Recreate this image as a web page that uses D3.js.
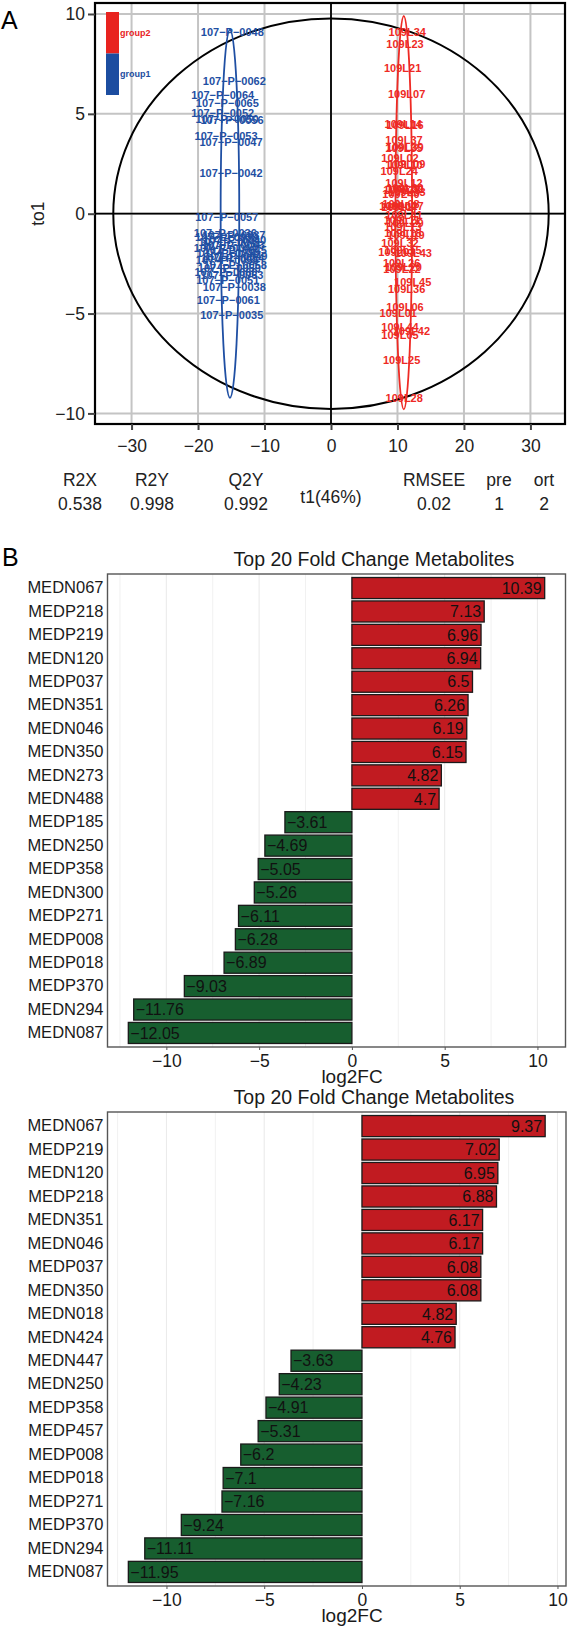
<!DOCTYPE html>
<html><head><meta charset="utf-8">
<script src="https://cdn.jsdelivr.net/npm/d3@7"></script>
<style>
body{margin:0;background:#fff}
svg{display:block}
text{font-family:"Liberation Sans",Arial,Helvetica,sans-serif}
</style>
</head><body>
<svg id="c" width="570" height="1631"></svg>
<script>
// ---------------- Panel A data (OPLS-DA scores) ----------------
const group1Names = ["107-P-0048","107-P-0062","107-P-0064","107-P-0065","107-P-0052","107-P-0056","107-P-0050","107-P-0053","107-P-0047","107-P-0042","107-P-0057",
  "107-P-0036","107-P-0037","107-P-0039","107-P-0040","107-P-0041","107-P-0043","107-P-0044","107-P-0045","107-P-0046","107-P-0049","107-P-0054","107-P-0055","107-P-0058","107-P-0059","107-P-0060","107-P-0063",
  "107-P-0051","107-P-0038","107-P-0061","107-P-0035"];
const group1T1 = [-14.84,-14.54,-16.29,-15.59,-16.29,-14.89,-15.64,-15.79,-15.04,-15.04,-15.68,
  -15.9,-14.6,-15.7,-14.5,-15.2,-14.7,-15.9,-14.4,-15.5,-14.3,-14.8,-15.6,-14.4,-15.3,-15.8,-14.9,
  -15.53,-14.54,-15.44,-14.93];
const group1To1 = [9.10,6.63,5.93,5.55,5.02,4.68,4.73,3.88,3.60,2.04,-0.16,
  -0.98,-1.08,-1.18,-1.33,-1.43,-1.58,-1.73,-1.83,-1.98,-2.13,-2.23,-2.33,-2.58,-2.73,-2.93,-3.08,
  -3.30,-3.67,-4.33,-5.08];

const group2Names = ["109L34","109L23","109L21","109L07","109L14","109L16","109L37","109L39","109L35","109L02","109L09","109L10","109L24",
  "109L12","109L30","109L38","109L33","109L40","109L31","109L08","109L27","109L04","109L17","109L41","109L11","109L29","109L13","109L18","109L19",
  "109L32","109L03","109L15","109L43","109L26","109L20","109L22","109L45","109L36","109L06","109L01","109L44","109L42","109L05","109L25","109L28"];
const group2T1 = [11.47,11.13,10.78,11.38,10.87,11.13,10.98,11.13,10.98,10.38,11.38,10.98,10.27,
  10.98,11.13,10.68,11.43,10.53,11.28,10.53,11.13,10.08,10.38,10.98,10.68,11.13,10.83,10.83,11.28,
  10.38,9.92,10.83,12.38,10.63,10.88,10.68,12.29,11.38,11.13,10.12,10.38,12.09,10.38,10.63,11.01];
const group2To1 = [9.10,8.52,7.27,5.97,4.51,4.46,3.68,3.34,3.28,2.81,2.48,2.43,2.14,
  1.53,1.28,1.18,1.08,1.00,1.25,0.48,0.40,0.38,0.33,-0.08,-0.33,-0.48,-0.68,-0.98,-1.08,
  -1.49,-1.91,-1.83,-1.96,-2.46,-2.68,-2.78,-3.42,-3.78,-4.67,-4.97,-5.67,-5.87,-6.08,-7.34,-9.25];

const xTicksA = [-30,-20,-10,0,10,20,30];
const yTicksA = [-10,-5,0,5,10];
const statsHeaders = ["R2X","R2Y","Q2Y","RMSEE","pre","ort"];
const statsValues = ["0.538","0.998","0.992","0.02","1","2"];
const xLabelA = "t1(46%)";
const yLabelA = "to1";
// ellipses: [centre t1, centre to1, semi-axis t1, semi-axis to1]
const hotellingEllipse = [0, 0, 32.75, 9.78];
const group1Ellipse = [-15.2, 0, 1.4, 9.22];
const group2Ellipse = [10.95, 0.05, 1.25, 9.85];

// ---------------- Panel B data ----------------
const chartTitle = "Top 20 Fold Change Metabolites";
const xLabelB = "log2FC";
const fcTicks = [-10,-5,0,5,10];
const metabolites1 = ["MEDN067","MEDP218","MEDP219","MEDN120","MEDP037","MEDN351","MEDN046","MEDN350","MEDN273","MEDN488",
  "MEDP185","MEDN250","MEDP358","MEDN300","MEDP271","MEDP008","MEDP018","MEDP370","MEDN294","MEDN087"];
const log2fc1 = [10.39,7.13,6.96,6.94,6.5,6.26,6.19,6.15,4.82,4.7,
  -3.61,-4.69,-5.05,-5.26,-6.11,-6.28,-6.89,-9.03,-11.76,-12.05];
const metabolites2 = ["MEDN067","MEDP219","MEDN120","MEDP218","MEDN351","MEDN046","MEDP037","MEDN350","MEDN018","MEDN424",
  "MEDN447","MEDN250","MEDP358","MEDP457","MEDP008","MEDP018","MEDP271","MEDP370","MEDN294","MEDN087"];
const log2fc2 = [9.37,7.02,6.95,6.88,6.17,6.17,6.08,6.08,4.82,4.76,
  -3.63,-4.23,-4.91,-5.31,-6.2,-7.1,-7.16,-9.24,-11.11,-11.95];

// ---------------- Drawing ----------------
const svg = d3.select("#c");
const minus = s => String(s).replace(/-/g, "\u2212");
const RED = "#ee2a24", BLUE = "#1f4fa3";

// Panel A
const A = {l:95, r:565, t:3, b:424};
const xA = d3.scaleLinear().domain([-35.5, 35.2]).range([A.l, A.r]);
const yA = d3.scaleLinear().domain([-10.53, 10.55]).range([A.b, A.t]);
const gA = svg.append("g");

gA.append("text").attr("x", 1).attr("y", 29).attr("font-size", 25).text("A");

// grid
gA.selectAll(".gx").data(xTicksA).join("line")
  .attr("x1", d => xA(d)).attr("x2", d => xA(d)).attr("y1", A.t).attr("y2", A.b)
  .attr("stroke", "#c4c4c4").attr("stroke-width", 2);
gA.selectAll(".gy").data(yTicksA).join("line")
  .attr("y1", d => yA(d)).attr("y2", d => yA(d)).attr("x1", A.l).attr("x2", A.r)
  .attr("stroke", "#c4c4c4").attr("stroke-width", 2);
// zero axes
gA.append("line").attr("x1", xA(0)).attr("x2", xA(0)).attr("y1", A.t).attr("y2", A.b).attr("stroke", "#000").attr("stroke-width", 1.8);
gA.append("line").attr("y1", yA(0)).attr("y2", yA(0)).attr("x1", A.l).attr("x2", A.r).attr("stroke", "#000").attr("stroke-width", 1.8);

function ell(e, color, w) {
  gA.append("ellipse")
    .attr("cx", xA(e[0])).attr("cy", yA(e[1]))
    .attr("rx", xA(e[0] + e[2]) - xA(e[0])).attr("ry", yA(e[1]) - yA(e[1] + e[3]))
    .attr("fill", "none").attr("stroke", color).attr("stroke-width", w);
}
ell(hotellingEllipse, "#000", 2);
ell(group1Ellipse, BLUE, 1.8);
ell(group2Ellipse, RED, 1.8);

// labels
const lab1 = group1Names.map((n, i) => ({n, x: group1T1[i], y: group1To1[i]}));
const lab2 = group2Names.map((n, i) => ({n, x: group2T1[i], y: group2To1[i]}));
gA.append("g").selectAll("text").data(lab1).join("text")
  .attr("x", d => xA(d.x)).attr("y", d => yA(d.y)).attr("dy", "0.36em")
  .attr("text-anchor", "middle").attr("font-size", 11).attr("font-weight", "bold")
  .attr("fill", BLUE).text(d => minus(d.n));
gA.append("g").selectAll("text").data(lab2).join("text")
  .attr("x", d => xA(d.x)).attr("y", d => yA(d.y)).attr("dy", "0.36em")
  .attr("text-anchor", "middle").attr("font-size", 11).attr("font-weight", "bold")
  .attr("fill", RED).text(d => d.n);

// legend bar
const legY = d3.scaleBand().domain(["group2", "group1"]).range([12, 95]);
const legG = gA.append("g");
legG.selectAll("rect").data(legY.domain()).join("rect")
  .attr("x", 106).attr("width", 13).attr("y", d => legY(d)).attr("height", legY.bandwidth())
  .attr("fill", d => d === "group2" ? "#e8231f" : "#1c4da0");
legG.selectAll("text").data(legY.domain()).join("text")
  .attr("x", 120).attr("y", d => legY(d) + legY.bandwidth() / 2).attr("dy", "0.35em")
  .attr("font-size", 9).attr("font-weight", "bold")
  .attr("fill", d => d === "group2" ? "#e8231f" : "#1c4da0").text(d => d);

// frame
gA.append("rect").attr("x", A.l).attr("y", A.t).attr("width", A.r - A.l).attr("height", A.b - A.t)
  .attr("fill", "none").attr("stroke", "#000").attr("stroke-width", 2.2);

// axes
const axAx = gA.append("g").attr("transform", `translate(0,${A.b})`)
  .call(d3.axisBottom(xA).tickValues(xTicksA).tickSize(6).tickPadding(10).tickFormat(d => minus(d)));
const axAy = gA.append("g").attr("transform", `translate(${A.l},0)`)
  .call(d3.axisLeft(yA).tickValues(yTicksA).tickSize(7).tickPadding(3).tickFormat(d => minus(d)));
[axAx, axAy].forEach(a => {
  a.select(".domain").remove();
  a.selectAll("line").attr("stroke", "#444").attr("stroke-width", 2);
  a.selectAll("text").attr("font-size", 17.5).attr("fill", "#222").style("font-family", '"Liberation Sans",Arial,sans-serif');
});
gA.append("text").attr("transform", `translate(44,${yA(0)}) rotate(-90)`)
  .attr("text-anchor", "middle").attr("font-size", 17.5).attr("fill", "#222").text(yLabelA);

// stats
const statX = [80, 152, 246, 434, 499, 544];
statsHeaders.forEach((h, i) => {
  gA.append("text").attr("x", statX[i]).attr("y", 486).attr("text-anchor", "middle").attr("font-size", 17.5).attr("fill", "#222").text(h);
  gA.append("text").attr("x", statX[i]).attr("y", 510).attr("text-anchor", "middle").attr("font-size", 17.5).attr("fill", "#222").text(statsValues[i]);
});
gA.append("text").attr("x", xA(0)).attr("y", 503).attr("text-anchor", "middle").attr("font-size", 17.5).attr("fill", "#222").text(xLabelA);

// Panel B
svg.append("text").attr("x", 2).attr("y", 566).attr("font-size", 25).text("B");

function barChart(names, vals, box) {
  const g = svg.append("g");
  const lo = Math.min(0, d3.min(vals)), hi = Math.max(0, d3.max(vals));
  const pad = (hi - lo) * 0.05;
  const x = d3.scaleLinear().domain([lo - pad, hi + pad]).range([box.l, box.r]);
  const y = d3.scaleBand().domain(names).range([box.t, box.b]).paddingInner(0.1).paddingOuter(0.15);
  // grid
  const grid = d3.range(-15, 15.01, 2.5).filter(v => v >= x.domain()[0] && v <= x.domain()[1]);
  g.selectAll(".g").data(grid).join("line")
    .attr("x1", d => x(d)).attr("x2", d => x(d)).attr("y1", box.t).attr("y2", box.b)
    .attr("stroke", "#ebebeb").attr("stroke-width", d => d % 5 === 0 ? 1.1 : 0.7);
  // bars
  g.selectAll("rect.bar").data(names).join("rect").attr("class", "bar")
    .attr("x", (d, i) => x(Math.min(0, vals[i])))
    .attr("width", (d, i) => Math.abs(x(vals[i]) - x(0)))
    .attr("y", d => y(d)).attr("height", y.bandwidth())
    .attr("fill", (d, i) => vals[i] > 0 ? "#c11b21" : "#175e2f")
    .attr("stroke", "#1a1a1a").attr("stroke-width", 1.3);
  // value labels
  g.selectAll("text.val").data(names).join("text").attr("class", "val")
    .attr("x", (d, i) => vals[i] > 0 ? x(vals[i]) - 3 : x(vals[i]) + 2)
    .attr("y", d => y(d) + y.bandwidth() / 2).attr("dy", "0.36em")
    .attr("text-anchor", (d, i) => vals[i] > 0 ? "end" : "start")
    .attr("font-size", 16).attr("fill", "#111")
    .text((d, i) => minus(vals[i]));
  // frame
  g.append("rect").attr("x", box.l).attr("y", box.t).attr("width", box.r - box.l).attr("height", box.b - box.t)
    .attr("fill", "none").attr("stroke", "#555").attr("stroke-width", 1.4);
  // axes
  const ax = g.append("g").attr("transform", `translate(0,${box.b})`)
    .call(d3.axisBottom(x).tickValues(fcTicks).tickSize(3).tickPadding(5).tickFormat(d => minus(d)));
  const ay = g.append("g").attr("transform", `translate(${box.l},0)`)
    .call(d3.axisLeft(y).tickSize(0).tickPadding(4));
  [ax, ay].forEach(a => {
    a.select(".domain").remove();
    a.selectAll("line").attr("stroke", "#555");
    a.selectAll("text").attr("font-size", 16.5).attr("fill", "#1a1a1a").style("font-family", '"Liberation Sans",Arial,sans-serif');
  });
  ax.selectAll("text").attr("font-size", 17.5);
  g.append("text").attr("x", 374).attr("y", box.t - 8).attr("text-anchor", "middle").attr("font-size", 19.5).attr("fill", "#1a1a1a").text(chartTitle);
  g.append("text").attr("x", 352).attr("y", box.b + 36).attr("text-anchor", "middle").attr("font-size", 19).attr("fill", "#1a1a1a").text(xLabelB);
}
barChart(metabolites1, log2fc1, {l:107.5, r:565.5, t:574, b:1047});
barChart(metabolites2, log2fc2, {l:107.5, r:566, t:1112, b:1586});
</script>
</body></html>
